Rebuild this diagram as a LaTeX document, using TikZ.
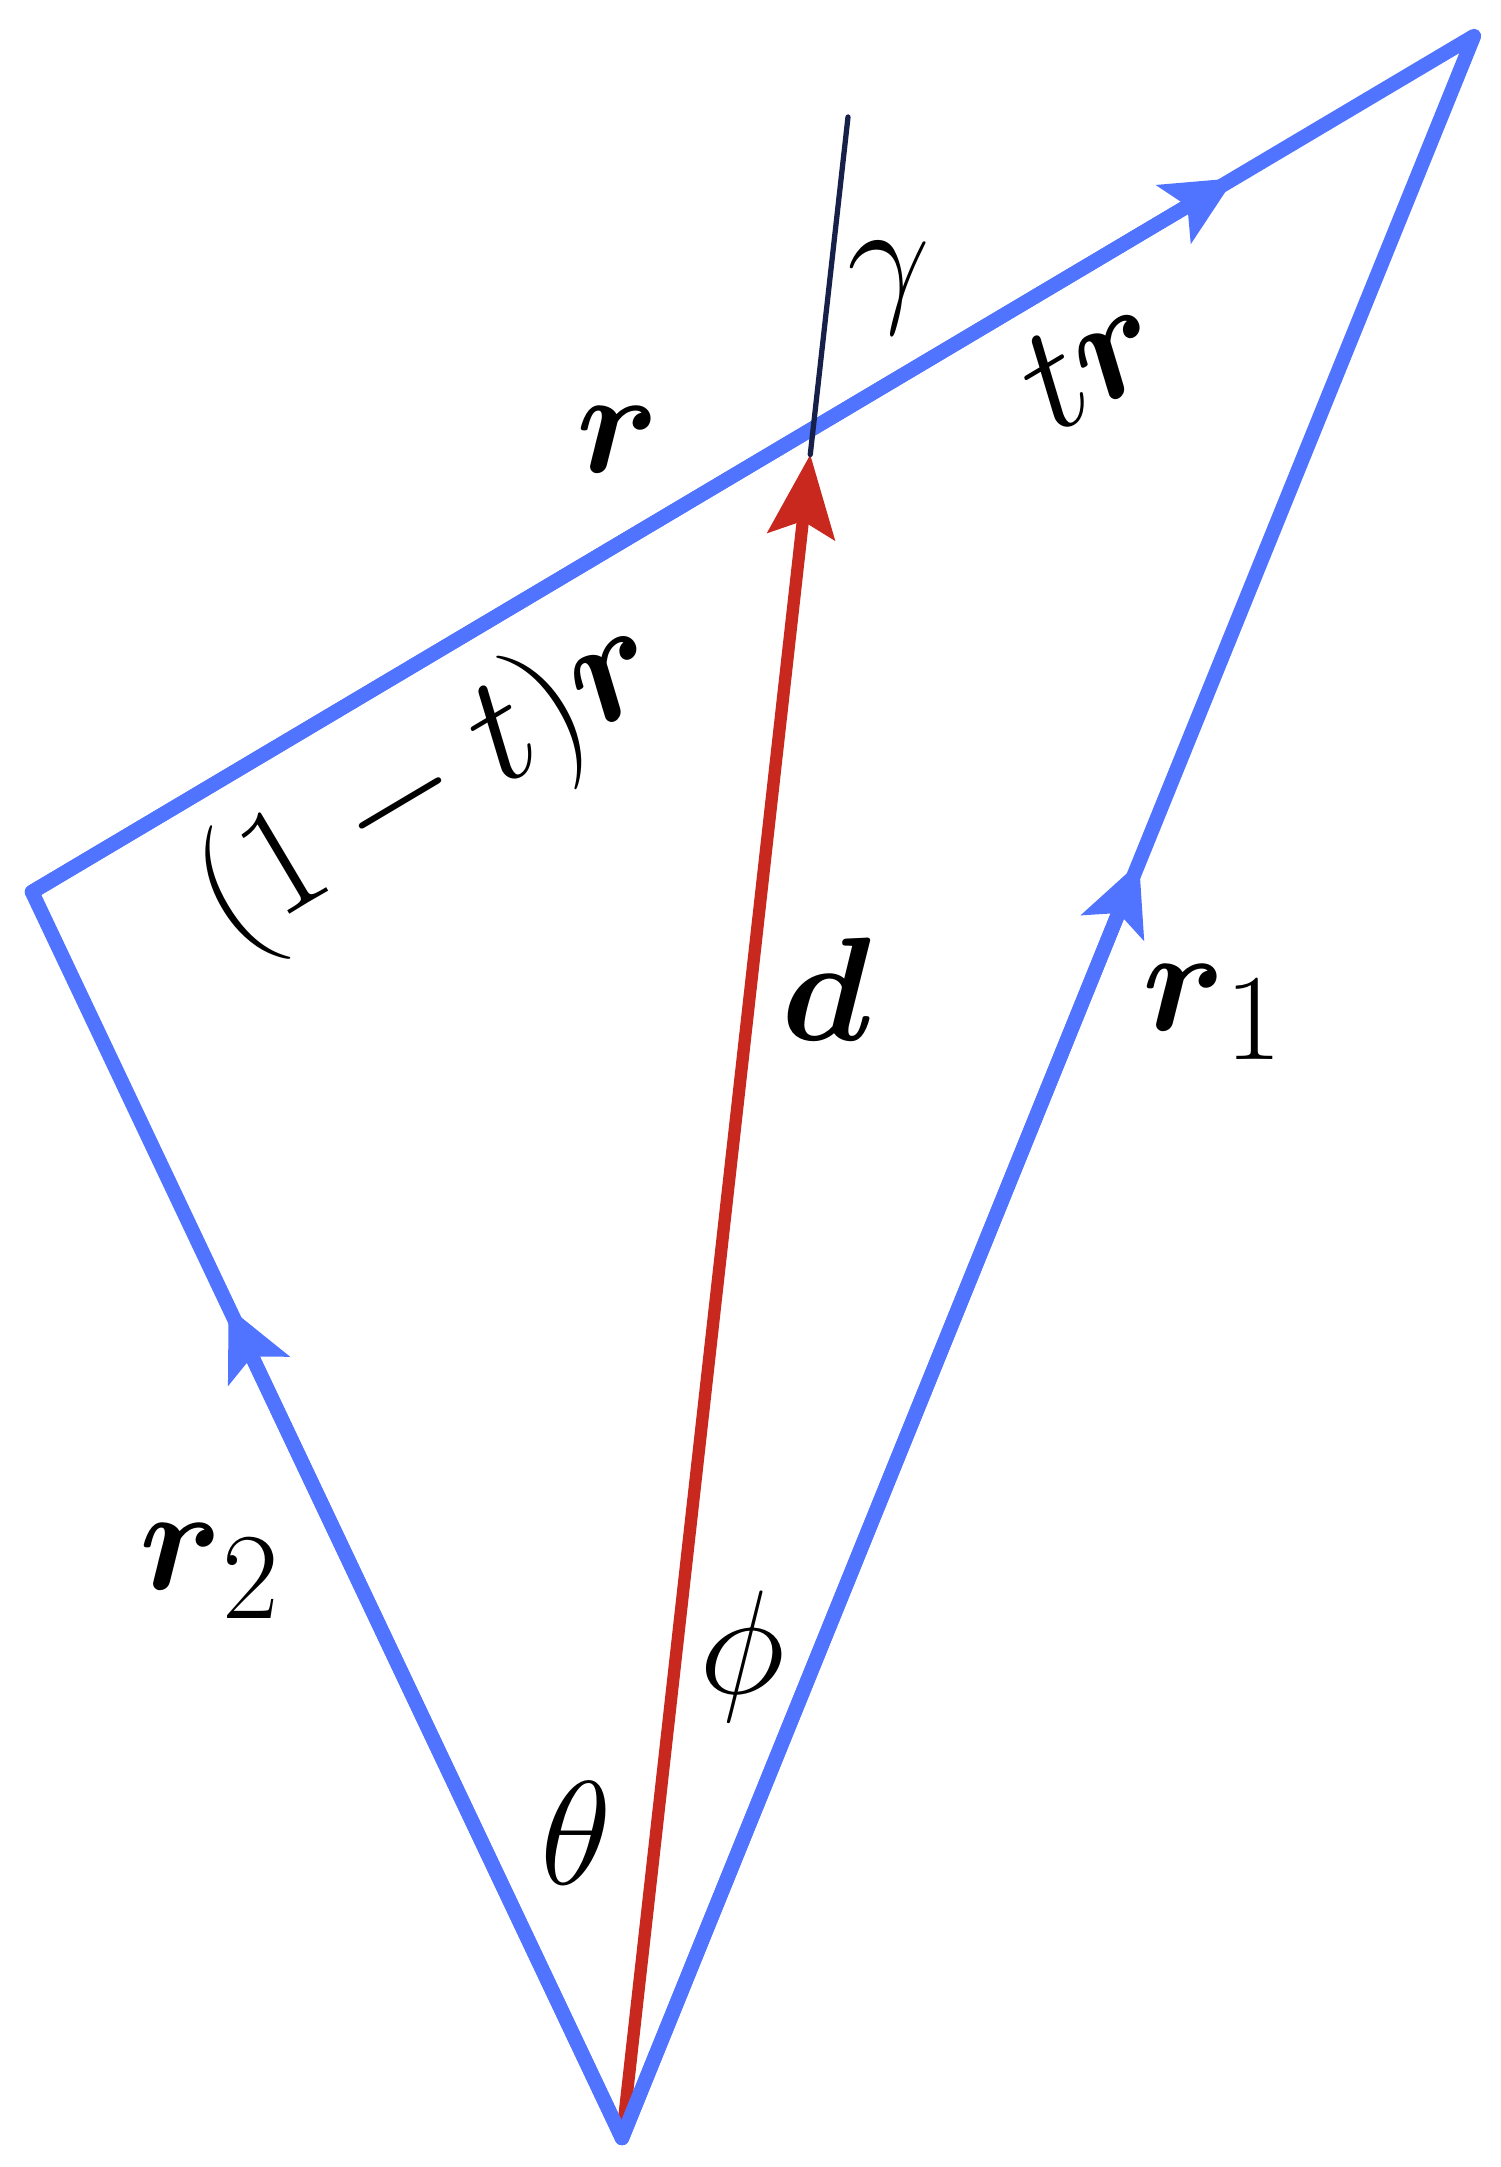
\documentclass[tikz,border=0pt]{standalone}
\usepackage{amsmath}
\usetikzlibrary{arrows.meta,calc}
\definecolor{vblue}{RGB}{80,116,255}
\definecolor{vred}{RGB}{200,40,30}
\definecolor{vnavy}{RGB}{22,32,72}
\tikzset{
  bluev/.style={draw=vblue, line width=4.1pt, line cap=round, line join=round},
  redv/.style={draw=vred, line width=3.5pt, line cap=round},
  navyv/.style={draw=vnavy, line width=1.5pt, line cap=round},
  bluetip/.style={-{Stealth[length=19.9pt,width=18.8pt,inset=4.3pt]}},
  redtip/.style={-{Stealth[length=23.3pt,width=19pt,inset=4.3pt]}},
  lbl/.style={inner sep=0pt, anchor=center, font=\Huge, scale=1.688}
}
\begin{document}
\begin{tikzpicture}[x=0.01cm,y=-0.01cm]
\useasboundingbox (0,0) rectangle (1500,2167);
\coordinate (O) at (622,2138);
\coordinate (L) at (32,892);
\coordinate (T) at (1474,36);
\coordinate (G) at (848,117);
\coordinate (A2) at ($(O)!0.667!(L)$);
\coordinate (A1) at ($(O)!0.607!(T)$);
\coordinate (AR) at ($(L)!0.834!(T)$);
\coordinate (D) at ($(O)!0.833!(G)$);
% d vector
\draw[redv, redtip] (O) -- (D);
% triangle
\draw[bluev] (O) -- (L) -- (T) -- cycle;
\draw[bluev, bluetip] (O) -- (A2);
\draw[bluev, bluetip] (O) -- (A1);
\draw[bluev, bluetip] (L) -- (AR);
% extension line
\draw[navyv] (D) -- (G);
% labels
\node[lbl] (gam) at (889,288) {$\gamma$};
\node[lbl] (r) at (618,440) {$\boldsymbol{r}$};
\node[lbl, scale=1.03, rotate=30.7] (tr) at (1090,360) {$t\boldsymbol{r}$};
\node[lbl, scale=1.05, rotate=30.7] (omt) at (431,785) {$(1-t)\boldsymbol{r}$};
\node[lbl] (d) at (827,989) {$\boldsymbol{d}$};
\node[lbl] (r1) at (1214,1012) {$\boldsymbol{r}_1$};
\node[lbl] (r2) at (211,1571) {$\boldsymbol{r}_2$};
\node[lbl] (phi) at (742,1657) {$\phi$};
\node[lbl] (th) at (576,1833) {$\theta$};
\end{tikzpicture}
\end{document}
